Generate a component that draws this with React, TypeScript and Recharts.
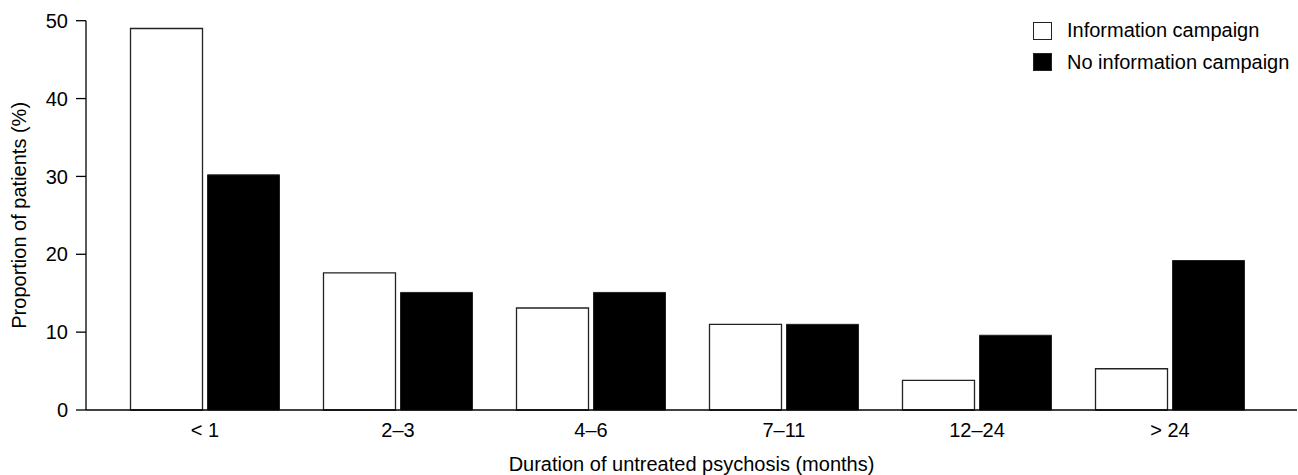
import React from 'react';
import { BarChart, Bar, XAxis, YAxis, Legend } from 'recharts';

const categories = ['< 1', '2–3', '4–6', '7–11', '12–24', '> 24'];
const infoCampaign = [49, 17.6, 13.1, 11.0, 3.8, 5.3];
const noInfoCampaign = [30.2, 15.1, 15.1, 11.0, 9.6, 19.2];
const yTicks = [0, 10, 20, 30, 40, 50];
const seriesNames = ['Information campaign', 'No information campaign'];
const xTitle = 'Duration of untreated psychosis (months)';
const yTitle = 'Proportion of patients (%)';

const data = categories.map((c, i) => ({
  cat: c,
  info: infoCampaign[i],
  noInfo: noInfoCampaign[i],
}));

const FONT = '"Liberation Sans", Arial, sans-serif';

const LegendContent = (props: any) => {
  const payload = props.payload || [];
  return (
    <div style={{ fontFamily: FONT, fontSize: 20, color: '#000' }}>
      {payload.map((p: any, i: number) => (
        <div key={i} style={{ display: 'flex', alignItems: 'center', height: 31.5 }}>
          <div
            style={{
              width: 19,
              height: 18,
              boxSizing: 'border-box',
              border: '1.3px solid #222',
              background: p.payload && p.payload.fill ? p.payload.fill : p.color,
              marginRight: 15,
            }}
          />
          <span style={{ whiteSpace: 'nowrap' }}>{p.value}</span>
        </div>
      ))}
    </div>
  );
};

export default function App() {
  return (
    <div style={{ position: 'absolute', left: 0, top: 0, width: 1298, height: 475, background: '#fff' }}>
      <BarChart
        width={1298}
        height={475}
        data={data}
        margin={{ top: 20.7, right: 1, left: 0, bottom: 0 }}
        barCategoryGap={22}
        barGap={5}
      >
        <XAxis
          dataKey="cat"
          height={65}
          padding={{ left: 22.5, right: 30.5 }}
          tickLine={false}
          tickSize={0}
          tickMargin={13}
          axisLine={{ stroke: '#000', strokeWidth: 1.3 }}
          tick={{ fontSize: 20, fill: '#000', fontFamily: FONT }}
          interval={0}
          label={{
            content: (lp: any) => {
              const vb = lp.viewBox || {};
              return (
                <text
                  x={vb.x + vb.width / 2}
                  y={471}
                  textAnchor="middle"
                  fontSize={20}
                  fontFamily={FONT}
                  fill="#000"
                >
                  {xTitle}
                </text>
              );
            },
          }}
        />
        <YAxis
          width={86}
          domain={[0, 50]}
          ticks={yTicks}
          tickSize={10}
          tickMargin={8}
          axisLine={{ stroke: '#000', strokeWidth: 1.3 }}
          tickLine={{ stroke: '#000', strokeWidth: 1.3 }}
          tick={{ fontSize: 20, fill: '#000', fontFamily: FONT }}
          label={{
            content: (lp: any) => {
              const vb = lp.viewBox || {};
              const cx = 26.5;
              const cy = vb.y + vb.height / 2;
              return (
                <text
                  x={cx}
                  y={cy}
                  transform={`rotate(-90 ${cx} ${cy})`}
                  textAnchor="middle"
                  fontSize={20}
                  fontFamily={FONT}
                  fill="#000"
                >
                  {yTitle}
                </text>
              );
            },
          }}
        />
        <Legend
          verticalAlign="middle"
          align="center"
          layout="vertical"
          content={<LegendContent />}
          wrapperStyle={{ left: 1033, top: 15, width: 265 }}
        />
        <Bar
          dataKey="info"
          name={seriesNames[0]}
          fill="#fff"
          stroke="#222"
          strokeWidth={1.3}
          isAnimationActive={false}
        />
        <Bar
          dataKey="noInfo"
          name={seriesNames[1]}
          fill="#000"
          stroke="#222"
          strokeWidth={1}
          isAnimationActive={false}
        />
      </BarChart>
    </div>
  );
}
